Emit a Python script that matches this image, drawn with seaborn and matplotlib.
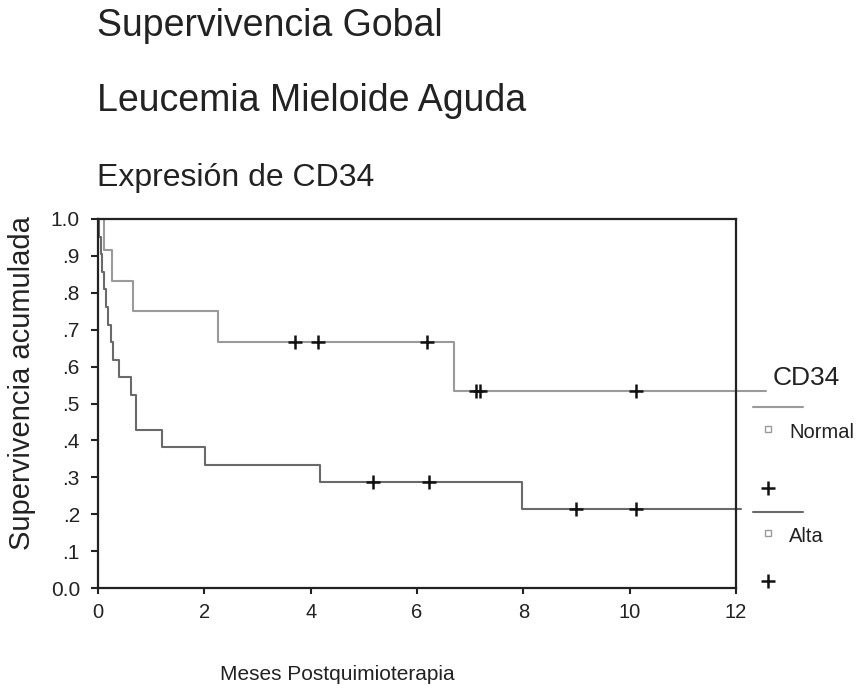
import matplotlib
matplotlib.use('Agg')
import matplotlib.pyplot as plt
from matplotlib.lines import Line2D
import seaborn as sns

# Kaplan-Meier steps (months, cumulative survival)
normal_t = [0, 0.12, 0.27, 0.65, 2.26, 6.69, 12.56]
normal_s = [1.0, 0.917, 0.833, 0.750, 0.667, 0.533, 0.533]
normal_cens_t = [3.71, 4.13, 6.18, 7.11, 7.19, 10.12]
normal_cens_s = [0.667, 0.667, 0.667, 0.533, 0.533, 0.533]

alta_t = [0, 0.02, 0.05, 0.08, 0.11, 0.15, 0.19, 0.24, 0.29, 0.39, 0.63, 0.72,
          1.21, 2.01, 4.18, 7.98, 12.09]
alta_s = [1.0, 0.952, 0.905, 0.857, 0.810, 0.762, 0.714, 0.667, 0.619, 0.571,
          0.524, 0.429, 0.381, 0.333, 0.286, 0.214, 0.214]
alta_cens_t = [5.18, 6.22, 8.99, 10.12]
alta_cens_s = [0.286, 0.286, 0.214, 0.214]

xticks = [0, 2, 4, 6, 8, 10, 12]
yticks = [0.0, 0.1, 0.2, 0.3, 0.4, 0.5, 0.6, 0.7, 0.8, 0.9, 1.0]
ytick_labels = ['0.0', '.1', '.2', '.3', '.4', '.5', '.6', '.7', '.8', '.9', '1.0']

c_normal = '#9a9a9a'
c_alta = '#6a6a6a'

sns.set_style('ticks')
plt.rcParams['font.family'] = ['Liberation Sans', 'DejaVu Sans']

W, H = 860, 694
fig = plt.figure(figsize=(W / 100, H / 100), dpi=100)
ax = fig.add_axes([98 / W, 1 - 588 / H, (736 - 98) / W, (588 - 219) / H])

def fx(px):
    return px / W

def fy(py):
    return 1 - py / H

sns.lineplot(x=normal_t, y=normal_s, drawstyle='steps-post', color=c_normal,
             lw=1.5, estimator=None, clip_on=False, ax=ax)
sns.lineplot(x=alta_t, y=alta_s, drawstyle='steps-post', color=c_alta,
             lw=1.5, estimator=None, clip_on=False, ax=ax)
sns.scatterplot(x=normal_cens_t, y=normal_cens_s, marker='+', s=110,
                color='#111111', linewidth=1.8, ax=ax, zorder=5)
sns.scatterplot(x=alta_cens_t, y=alta_cens_s, marker='+', s=110,
                color='#111111', linewidth=1.8, ax=ax, zorder=5)

ax.set_xlim(0, 12)
ax.set_ylim(0, 1.0)
ax.set_xticks(xticks)
ax.set_yticks(yticks)
ax.set_yticklabels(ytick_labels)
ax.tick_params(axis='x', labelsize=14.5, length=4, width=1.5, pad=7, colors='#222222')
ax.tick_params(axis='y', labelsize=15, length=5, width=1.5, pad=8, colors='#222222')
for sp in ax.spines.values():
    sp.set_visible(True)
    sp.set_color('#222222')
    sp.set_linewidth(1.6)
ax.set_xlabel('')
ax.set_ylabel('')

# titles
fig.text(fx(97), fy(36), 'Supervivencia Gobal', fontsize=27, color='#222222', va='baseline')
fig.text(fx(97), fy(111), 'Leucemia Mieloide Aguda', fontsize=27, color='#222222', va='baseline')
fig.text(fx(97), fy(186), 'Expresión de CD34', fontsize=23, color='#222222', va='baseline')

# axis labels
fig.text(fx(22), fy(383), 'Supervivencia acumulada', fontsize=21, rotation=90,
         ha='center', va='center', color='#222222')
fig.text(fx(220), fy(680), 'Meses Postquimioterapia', fontsize=15, va='baseline',
         color='#222222')

# legend block on the right
fig.text(fx(773), fy(385), 'CD34', fontsize=19, va='baseline', color='#222222')
fig.add_artist(Line2D([fx(753), fx(803)], [fy(407), fy(407)], color=c_normal, lw=1.5))
fig.add_artist(Line2D([fx(768)], [fy(429)], marker='s', ms=5, mfc='white',
                      mec=c_normal, mew=1, ls='none'))
fig.text(fx(789), fy(433), 'Normal', fontsize=14.5, va='center', color='#222222')
fig.add_artist(Line2D([fx(768)], [fy(488)], marker='+', ms=10, mew=1.8,
                      color='#111111', ls='none'))
fig.add_artist(Line2D([fx(753), fx(803)], [fy(512), fy(512)], color=c_alta, lw=1.5))
fig.add_artist(Line2D([fx(768)], [fy(533)], marker='s', ms=5, mfc='white',
                      mec=c_normal, mew=1, ls='none'))
fig.text(fx(789), fy(536), 'Alta', fontsize=14.5, va='center', color='#222222')
fig.add_artist(Line2D([fx(768)], [fy(581)], marker='+', ms=10, mew=1.8,
                      color='#111111', ls='none'))

plt.savefig('out.png', dpi=100)
